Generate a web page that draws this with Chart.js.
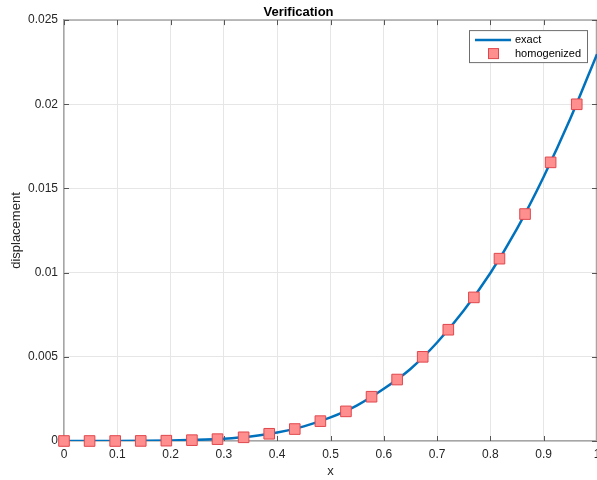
<!DOCTYPE html>
<html>
<head>
<meta charset="utf-8">
<title>Verification</title>
<script src="https://cdn.jsdelivr.net/npm/chart.js@4.4.1/dist/chart.umd.min.js"></script>
<style>
  html, body { margin: 0; padding: 0; background: #fff; }
</style>
</head>
<body>
<canvas id="verificacao_canva" width="597" height="480"></canvas>
<script>
// Solução exata (curva contínua)
var exactX = [0, 0.05, 0.1, 0.15, 0.2, 0.25, 0.3, 0.35, 0.4, 0.45, 0.5,
              0.55, 0.6, 0.65, 0.7, 0.75, 0.8, 0.85, 0.9, 0.95, 1];
var exactY = [0, 0, 0.000002, 0.00001, 0.00003, 0.00007, 0.00014, 0.00027, 0.0005, 0.00087, 0.0014,
              0.00212, 0.0031, 0.00428, 0.00585, 0.00775, 0.00998, 0.01262, 0.0157, 0.01915, 0.02298];

// Solução homogeneizada (marcadores)
var homX = [0, 0.048, 0.096, 0.144, 0.192, 0.24, 0.288, 0.337, 0.385, 0.433, 0.481,
            0.529, 0.577, 0.625, 0.673, 0.721, 0.769, 0.817, 0.865, 0.913, 0.962];
var homY = [0, 0, 0, 0.000005, 0.00002, 0.00005, 0.00011, 0.00022, 0.00043, 0.00071, 0.00118,
            0.00176, 0.00263, 0.00365, 0.005, 0.00661, 0.00853, 0.01083, 0.01348, 0.01655, 0.02];

// Rótulos dos eixos
var xTicks = [0, 0.1, 0.2, 0.3, 0.4, 0.5, 0.6, 0.7, 0.8, 0.9, 1];
var yTicks = [0, 0.005, 0.01, 0.015, 0.02, 0.025];

var fonte = 'Helvetica, Arial, "Liberation Sans", sans-serif';
var corTexto = '#262626';

function pares(xs, ys) {
  var out = [];
  for (var i = 0; i < xs.length; i++) {
    out.push({ x: xs[i], y: ys[i] });
  }
  return out;
}

function rotulo(v) {
  return String(+v.toFixed(3));
}

// Moldura estilo MATLAB: borda de cima/direita e marcas de escala para dentro
var molduraPlugin = {
  id: 'moldura',
  beforeDatasetsDraw: function(chart) {
    var c = chart.ctx;
    var a = chart.chartArea;
    var sx = chart.scales.x, sy = chart.scales.y;
    c.save();
    c.strokeStyle = '#a6a6a6';
    c.lineWidth = 1.5;
    c.beginPath();
    c.moveTo(a.left, a.top);
    c.lineTo(a.right, a.top);
    c.moveTo(a.right - 0.5, a.top);
    c.lineTo(a.right - 0.5, a.bottom);
    c.stroke();

    c.strokeStyle = '#555';
    c.lineWidth = 1;
    c.beginPath();
    xTicks.forEach(function(v) {
      var px = Math.round(sx.getPixelForValue(v)) + 0.5;
      c.moveTo(px, a.bottom);
      c.lineTo(px, a.bottom - 5);
      c.moveTo(px, a.top);
      c.lineTo(px, a.top + 5);
    });
    yTicks.forEach(function(v) {
      var py = Math.round(sy.getPixelForValue(v)) + 0.5;
      c.moveTo(a.left, py);
      c.lineTo(a.left + 5, py);
      c.moveTo(a.right, py);
      c.lineTo(a.right - 5, py);
    });
    c.stroke();
    c.restore();
  }
};

// Legenda desenhada dentro da área do gráfico, canto superior direito
var legendaPlugin = {
  id: 'legendaCaixa',
  afterDraw: function(chart) {
    var c = chart.ctx;
    var a = chart.chartArea;
    var linha = chart.data.datasets[0];
    var pontos = chart.data.datasets[1];
    var x0 = a.right - 127.5, y0 = a.top + 10.5, w = 118, h = 32;
    c.save();
    c.fillStyle = '#fff';
    c.fillRect(x0, y0, w, h);
    c.strokeStyle = '#6e6e6e';
    c.lineWidth = 1;
    c.strokeRect(x0, y0, w, h);

    c.strokeStyle = linha.borderColor;
    c.lineWidth = linha.borderWidth;
    c.beginPath();
    c.moveTo(x0 + 5.5, y0 + 9.5);
    c.lineTo(x0 + 41.5, y0 + 9.5);
    c.stroke();

    c.fillStyle = pontos.backgroundColor;
    c.fillRect(x0 + 19, y0 + 18, 10, 10);
    c.strokeStyle = pontos.borderColor;
    c.lineWidth = 1;
    c.strokeRect(x0 + 19, y0 + 18, 10, 10);

    c.font = '11px ' + fonte;
    c.fillStyle = '#000';
    c.textBaseline = 'middle';
    c.textAlign = 'left';
    c.fillText(linha.label, x0 + 45.5, y0 + 9.5);
    c.fillText(pontos.label, x0 + 45.5, y0 + 23);
    c.restore();
  }
};

var ctx = document.getElementById('verificacao_canva').getContext('2d');

var myChart = new Chart(ctx, {
  type: 'scatter',
  data: {
    datasets: [{
      label: 'exact',
      data: pares(exactX, exactY),
      showLine: true,
      borderColor: '#0072BD',
      borderWidth: 2.5,
      pointRadius: 0,
      cubicInterpolationMode: 'monotone',
      fill: false,
      order: 2
    }, {
      label: 'homogenized',
      data: pares(homX, homY),
      showLine: false,
      clip: false,
      pointStyle: 'rect',
      pointRadius: 7.5,
      pointHoverRadius: 7.5,
      backgroundColor: '#ff8f8f',
      borderColor: '#e0474c',
      borderWidth: 1,
      order: 1
    }]
  },
  options: {
    responsive: false,
    animation: false,
    devicePixelRatio: 1,
    layout: {
      autoPadding: false,
      padding: { top: 0, right: 0, bottom: 0, left: 0 }
    },
    plugins: {
      legend: { display: false },
      tooltip: { enabled: false },
      title: {
        display: true,
        text: 'Verification',
        color: '#000',
        font: { family: fonte, size: 13, weight: 'bold' },
        padding: { top: 4.5, bottom: 0 }
      }
    },
    scales: {
      x: {
        type: 'linear',
        position: 'bottom',
        min: 0,
        max: 1,
        afterBuildTicks: function(scale) {
          scale.ticks = xTicks.map(function(v) { return { value: v }; });
        },
        afterFit: function(scale) {
          scale.height = 39;
          scale.paddingLeft = 0;
          scale.paddingRight = 0;
        },
        ticks: {
          color: corTexto,
          font: { family: fonte, size: 12 },
          padding: 6,
          maxRotation: 0,
          autoSkip: false,
          callback: function(v) { return rotulo(v); }
        },
        grid: { color: '#e6e6e6', lineWidth: 1, drawTicks: false },
        border: { color: '#a6a6a6', width: 1.5 },
        title: {
          display: true,
          text: 'x',
          color: corTexto,
          font: { family: fonte, size: 13 },
          padding: { top: 0, bottom: 1 }
        }
      },
      y: {
        type: 'linear',
        position: 'left',
        min: 0,
        max: 0.025,
        afterBuildTicks: function(scale) {
          scale.ticks = yTicks.map(function(v) { return { value: v }; });
        },
        afterFit: function(scale) {
          scale.width = 64;
          scale.paddingTop = 0;
          scale.paddingBottom = 0;
        },
        ticks: {
          color: corTexto,
          font: { family: fonte, size: 12 },
          padding: 6,
          autoSkip: false,
          callback: function(v) { return rotulo(v); }
        },
        grid: { color: '#e6e6e6', lineWidth: 1, drawTicks: false },
        border: { color: '#a6a6a6', width: 1.5 },
        title: {
          display: true,
          text: 'displacement',
          color: corTexto,
          font: { family: fonte, size: 13 },
          padding: { top: 9, bottom: 0 }
        }
      }
    }
  },
  plugins: [molduraPlugin, legendaPlugin]
});
</script>
</body>
</html>
